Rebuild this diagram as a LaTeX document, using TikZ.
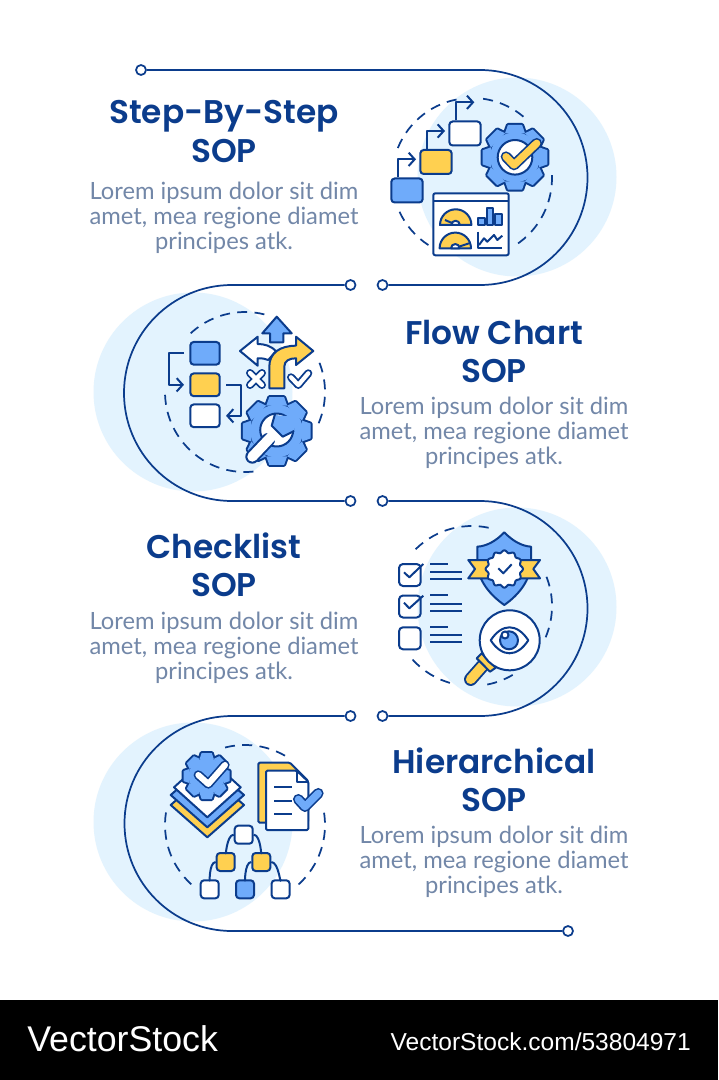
\documentclass[tikz,border=0pt]{standalone}
\usepackage{fontspec}
\usetikzlibrary{arrows.meta}
\newfontfamily\titlefont{Poppins SemiBold}
\newfontfamily\bodyfont{Lato}
\newfontfamily\brandfont{Liberation Sans}
\definecolor{navy}{HTML}{0B3C8C}
\definecolor{paleblue}{HTML}{E3F3FE}
\definecolor{iconblue}{HTML}{6FABFA}
\definecolor{iconyellow}{HTML}{FFD050}
\definecolor{bodygrey}{HTML}{7287A8}
\tikzset{
  linknode/.style={circle,draw=navy,fill=white,line width=1.3pt,inner sep=0pt,minimum size=7.5pt},
  linkline/.style={navy,line width=1.3pt},
  dashring/.style={navy,line width=1.3pt,dash pattern=on 7.5pt off 5.5pt},
  iconline/.style={navy,line width=1.5pt,line join=round},
  iconbox/.style={draw=navy,line width=1.5pt,rounded corners=2.5pt,inner sep=0pt},
  iconarrow/.style={iconline,-{Straight Barb[length=4.5pt,width=10pt,line width=1.5pt]}},
  titletext/.style={navy,font=\titlefont\fontsize{24.6}{28.8}\selectfont,align=center,inner sep=0pt},
  bodytext/.style={bodygrey,font=\bodyfont\fontsize{17.8}{18.8}\selectfont,align=center,inner sep=0pt}
}
% gear: centre, outer radius, body radius, fill
\newcommand{\iconGear}[4]{
  \begin{scope}[shift={#1}]
    \foreach \ang in {0,45,...,315} {
      \draw[navy,line width=3pt,line join=round,rotate=\ang] (-.31*#2,#3-1) -- (-.22*#2,#2) -- (.22*#2,#2) -- (.31*#2,#3-1);
    }
    \draw[navy,line width=3pt] (0,0) circle (#3);
    \foreach \ang in {0,45,...,315} {
      \fill[#4,rotate=\ang] (-.31*#2,#3-1) -- (-.22*#2,#2) -- (.22*#2,#2) -- (.31*#2,#3-1) -- cycle;
    }
    \fill[#4] (0,0) circle (#3);
  \end{scope}
}
% check mark with an outline: three points, outer width, inner width, fill
\newcommand{\iconTick}[6]{
  \draw[navy,line width=#4,line cap=round,line join=round] #1 -- #2 -- #3;
  \draw[#6,line width=#5,line cap=round,line join=round] #1 -- #2 -- #3;
}
\newcommand{\ringPart}[4]{\draw[dashring] (#1,#2) ++(#3:80) arc (#3:#4:80);}

\begin{document}
\begin{tikzpicture}[x=0.75pt,y=0.75pt,yscale=-1,xscale=1]
\useasboundingbox (0,0) rectangle (718,1080);
\fill[white] (0,0) rectangle (718,1080);

%Shape: pale discs
\fill[paleblue] (517,177) circle (99.5);
\fill[paleblue] (193,392) circle (99.5);
\fill[paleblue] (517,607) circle (99.5);
\fill[paleblue] (193,822) circle (99.5);

% Link ends
\node[linknode] (endA) at (141,70) {};
\node[linknode] (endB) at (382.5,285) {};
\node[linknode] (endC) at (350.5,285) {};
\node[linknode] (endD) at (350.5,501) {};
\node[linknode] (endE) at (382.5,501) {};
\node[linknode] (endF) at (382.5,716) {};
\node[linknode] (endG) at (350.5,716) {};
\node[linknode] (endH) at (568,931) {};

% Links
\draw[linkline] (endA) -- (480,70) arc (-90:90:107.5) -- (endB);
\draw[linkline] (endC) -- (232,285) arc (-90:-270:108) -- (endD);
\draw[linkline] (endE) -- (480,501) arc (-90:90:107.5) -- (endF);
\draw[linkline] (endG) -- (232,716) arc (-90:-270:107.5) -- (endH);

% Dashed rings
\ringPart{472}{178}{-2}{57}
\ringPart{472}{178}{123}{156}
\ringPart{472}{178}{-158}{-97}
\ringPart{472}{178}{-82}{-46}
\ringPart{245}{392}{-76}{-135}
\ringPart{245}{392}{-182}{-281}
\ringPart{245}{392}{23}{-22}
\ringPart{472}{606}{-78}{-138}
\ringPart{472}{606}{138}{104}
\ringPart{472}{606}{79}{59}
\ringPart{472}{606}{23}{-23}
\ringPart{245}{825}{-60}{-109}
\ringPart{245}{825}{-171}{-231}
\ringPart{245}{825}{48}{-10}

% Text Node
\node[titletext] (titleA) at (224,131.5) {Step-By-Step\\SOP};
\node[bodytext] (bodyA) at (224,217.5) {Lorem ipsum dolor sit dim\\amet, mea regione diamet\\principes atk.};
\node[titletext] (titleB) at (494,351.5) {Flow Chart\\SOP};
\node[bodytext] (bodyB) at (494,432.5) {Lorem ipsum dolor sit dim\\amet, mea regione diamet\\principes atk.};
\node[titletext] (titleC) at (224,564.5) {Checklist\\SOP};
\node[bodytext] (bodyC) at (224,647.5) {Lorem ipsum dolor sit dim\\amet, mea regione diamet\\principes atk.};
\node[titletext] (titleD) at (494,779.5) {Hierarchical\\SOP};
\node[bodytext] (bodyD) at (494,861.5) {Lorem ipsum dolor sit dim\\amet, mea regione diamet\\principes atk.};

%Shape: first icon, steps
\node[iconbox,fill=iconblue,minimum width=23.5pt,minimum height=18pt] (stepA) at (407,190.5) {};
\node[iconbox,fill=iconyellow,minimum width=23.5pt,minimum height=18pt] (stepB) at (436,162) {};
\node[iconbox,fill=white,minimum width=23.5pt,minimum height=18pt] (stepC) at (465,133.5) {};
\coordinate (tipA) at (416,159.3);
\coordinate (tipB) at (445,131);
\coordinate (tipC) at (474.3,102.3);
\draw[iconarrow] ([xshift=-6.5pt]stepA.north) |- (tipA);
\draw[iconarrow] ([xshift=-6.5pt]stepB.north) |- (tipB);
\draw[iconarrow] ([xshift=-6.5pt]stepC.north) |- (tipC);
\iconGear{(515,157.3)}{32.3}{25}{iconblue}
\draw[iconline,fill=white] (515,157.3) circle (17.3);
\iconTick{(506,156.7)}{(514,165)}{(536.7,143.3)}{8pt}{5.5pt}{iconyellow}

%Shape: first icon, dashboard
\draw[iconline,fill=white,rounded corners=1.5pt] (433.3,193.3) rectangle (508.7,255.3);
\draw[iconline] (433.3,200.7) -- (508.7,200.7);
\draw[iconline,fill=iconyellow] (440,225) arc (180:360:15.7) -- cycle;
\draw[iconline,fill=white] (451.3,225) arc (180:360:4.3) -- cycle;
\draw[iconline] (445,220) -- (452,223);
\draw[iconline,fill=iconyellow] (439.6,248.3) arc (180:360:15.7) -- cycle;
\draw[iconline,fill=white] (451,248.3) arc (180:360:4.3) -- cycle;
\draw[iconline] (470,243) -- (459.5,246.5);
\draw[iconline,fill=iconblue] (478.3,218.3) rectangle (485,225);
\draw[iconline,fill=iconblue] (486.7,207.7) rectangle (493.3,225);
\draw[iconline,fill=iconblue] (495,214.3) rectangle (501.7,225);
\draw[iconline] (478.3,231.7) -- (478.3,248.3) -- (502.3,248.3);
\draw[iconline] (479,245) -- (484,238.3) -- (487.3,241.7) -- (494,235) -- (497.3,240) -- (502.3,235.7);

%Shape: second icon, boxes
\node[iconbox,fill=iconblue,minimum width=22pt,minimum height=17pt] (flowA) at (205,353.3) {};
\node[iconbox,fill=iconyellow,minimum width=22pt,minimum height=17pt] (flowB) at (205,384.8) {};
\node[iconbox,fill=white,minimum width=22pt,minimum height=17pt] (flowC) at (205,415.8) {};
\draw[iconarrow] ([xshift=-4pt]flowA.west) -| (168.7,370) |- ([xshift=-4pt]flowB.west);
\draw[iconarrow] ([xshift=4pt]flowB.east) -| (241.3,400) |- ([xshift=4pt]flowC.east);

%Shape: second icon, arrows
\draw[iconline,fill=iconblue] (276.7,316.7) -- (291.7,333.3) -- (283.3,333.3) -- (283.3,342.3) -- (270,342.3) -- (270,333.3) -- (262.3,333.3) -- cycle;
\draw[iconline,fill=white] (240,351) -- (257.7,336.7) -- (257.7,344) .. controls (265,344) and (271,346) .. (276,351) -- (268.3,360) .. controls (265,358.5) and (262,358.3) .. (257.7,358.3) -- (257.7,365.7) -- cycle;
\draw[iconline,fill=iconyellow] (269.3,388.3) -- (269.3,366.7) .. controls (269.3,353) and (280,345.7) .. (296,345.7) -- (296,336.7) -- (313.3,351) -- (296,365) -- (296,358.3) .. controls (289,358.3) and (284.3,361) .. (284.3,366.7) -- (284.3,388.3) -- cycle;
\draw[navy,line width=6pt,line cap=round] (250,373) -- (262,385) (262,373) -- (250,385);
\draw[white,line width=3.2pt,line cap=round] (250,373) -- (262,385) (262,373) -- (250,385);
\iconTick{(291,377.3)}{(298.3,385)}{(308.3,373.3)}{6pt}{3.2pt}{white}

%Shape: second icon, gear and spanner
\iconGear{(276.7,431)}{33.8}{26.3}{iconblue}
\draw[iconline,fill=white] (276.7,430) circle (16.5);
\draw[navy,line width=10.5pt,line cap=round] (252.3,456.7) -- (268,440);
\draw[white,line width=7.5pt,line cap=round] (252.3,456.7) -- (272,436);
\fill[iconblue] (275,415) -- (271.7,425.7) -- (282.7,436.7) -- (294,430) -- (297,417) -- cycle;
\draw[iconline] (275,414) -- (271.7,425.7) -- (282.7,436.7) -- (294,431);

%Shape: third icon, list
\foreach \top/\lineA/\lineB/\lineC in {564/564/572.3/579,595.5/595.3/603.7/610.7,627.3/627/635.3/642} {
  \draw[iconline,rounded corners=3pt] (399,\top) rectangle (420.7,\top+22);
  \draw[iconline] (430,\lineA) -- (448.3,\lineA) (430,\lineB) -- (461.7,\lineB) (430,\lineC) -- (461.7,\lineC);
}
\draw[iconline] (404,572.3) -- (409.3,577.3) -- (423.3,564);
\draw[iconline] (404,602.7) -- (409.3,608.3) -- (423.3,595.7);

%Shape: third icon, shield
\draw[iconline,fill=iconblue] (504.3,532.3) .. controls (496,541) and (487,546) .. (477.3,546.7) -- (477.3,562) .. controls (477.3,580) and (490,595) .. (504.3,605) .. controls (518.6,595) and (531,580) .. (531,562) -- (531,546.7) .. controls (521.6,546) and (512.6,541) .. (504.3,532.3) -- cycle;
\draw[iconline,fill=iconyellow] (468.3,560) -- (490,560) -- (490,578.3) -- (468.3,578.3) -- (475,569) -- cycle;
\draw[iconline,fill=iconyellow] (518,560) -- (540,560) -- (533.3,569) -- (540,578.3) -- (518,578.3) -- cycle;
\draw[iconline,fill=white,shift={(504.3,569)}] plot[domain=0:360,samples=97] (\x:{17.5+1.2*cos(12*\x)}) -- cycle;
\draw[iconline] (498.3,568.3) -- (503.3,573.3) -- (511.7,564.3);

%Shape: third icon, magnifier
\draw[navy,line width=10pt,line cap=round] (482.7,665.7) -- (470.7,679.3);
\draw[iconyellow,line width=7.2pt,line cap=round] (482.7,665.7) -- (470.7,679.3);
\draw[iconline,fill=iconyellow] (481.7,653.3) -- (495.7,667.7) -- (490,671.7) -- (476.7,658.3) -- cycle;
\draw[iconline,fill=white] (509.7,640.3) circle (30);
\draw[iconline,fill=white] (490.7,640.3) .. controls (502,623) and (517,623) .. (528.3,640.3) .. controls (517,657.6) and (502,657.6) .. (490.7,640.3) -- cycle;
\draw[iconline,fill=iconblue] (509,640.3) circle (9);
\draw[iconline,fill=white] (505,635) circle (3.5);

%Shape: fourth icon, layers
\draw[iconline,fill=iconyellow] (170.7,805) -- (207.3,773) -- (244,805) -- (207.3,837.3) -- cycle;
\draw[iconline,fill=iconblue] (170.7,795) -- (207.3,763) -- (244,795) -- (207.3,827.3) -- cycle;
\draw[iconline,fill=white] (174,787.3) -- (207.3,757) -- (240.7,787.3) -- (207.3,817.3) -- cycle;
\iconGear{(206.7,776)}{23}{18}{iconblue}
\iconTick{(198.3,775)}{(208.3,784)}{(225,765)}{7pt}{4.5pt}{white}

%Shape: fourth icon, document
\draw[iconline,fill=iconyellow,rounded corners=1pt] (258.3,762.7) -- (290,762.7) -- (308,780.7) -- (308,822.7) -- (258.3,822.7) -- cycle;
\draw[iconline,fill=white,rounded corners=1pt] (266,770.7) -- (296.7,770.7) -- (308.3,781.7) -- (308.3,830) -- (266,830) -- cycle;
\draw[iconline] (296.7,770.7) -- (296.7,781.7) -- (308.3,781.7);
\draw[iconline] (274,787.3) -- (291.7,787.3) (274,800.7) -- (291.7,800.7) (274,814) -- (291.7,814);
\iconTick{(298.3,799.3)}{(305,806.7)}{(318.3,793.3)}{8pt}{5.5pt}{iconblue}

%Shape: fourth icon, tree
\node[iconbox,fill=white,minimum size=13.5pt] (treeTop) at (243.7,834.7) {};
\node[iconbox,fill=iconyellow,minimum size=13.5pt] (treeL) at (225.7,862) {};
\node[iconbox,fill=iconyellow,minimum size=13.5pt] (treeR) at (261.3,862) {};
\node[iconbox,fill=white,minimum size=13.5pt] (leafA) at (209.7,889.3) {};
\node[iconbox,fill=iconblue,minimum size=13.5pt] (leafB) at (245,889.3) {};
\node[iconbox,fill=white,minimum size=13.5pt] (leafC) at (280.6,889.3) {};
\draw[iconline] (treeTop.west) to[out=180,in=90] (treeL.north);
\draw[iconline] (treeTop.east) to[out=0,in=90] (treeR.north);
\draw[iconline] (treeL.west) to[out=180,in=90] (leafA.north);
\draw[iconline] (treeR.west) to[out=180,in=90] (leafB.north);
\draw[iconline] (treeR.east) to[out=0,in=90] (leafC.north);

%Shape: footer
\fill[black] (0,1000) rectangle (718,1080);
\node[white,font=\brandfont\fontsize{26.8}{30}\selectfont,anchor=base west,inner sep=0pt] (brandName) at (27,1051.5) {VectorStock};
\node[white,font=\brandfont\fontsize{18.4}{20}\selectfont,anchor=base east,inner sep=0pt] (brandLink) at (691,1050.5) {VectorStock.com/53804971};

\end{tikzpicture}
\end{document}
